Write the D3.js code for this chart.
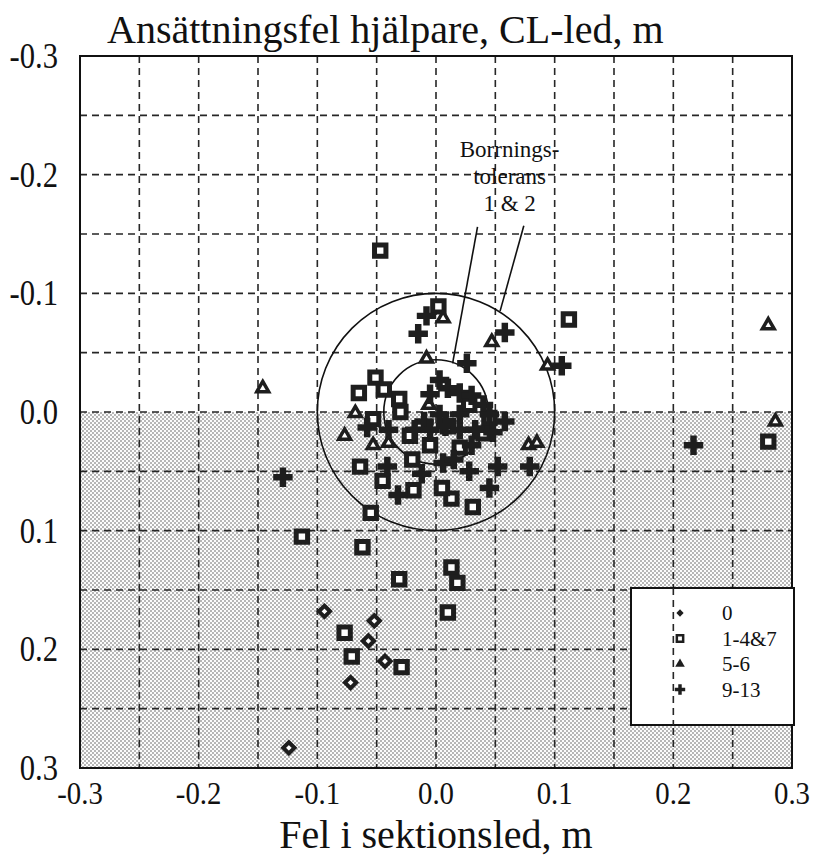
<!DOCTYPE html>
<html>
<head>
<meta charset="utf-8">
<title>Ansättningsfel hjälpare</title>
<script src="https://cdn.jsdelivr.net/npm/d3@7"></script>
<style>
  body { margin: 0; background: #fff; }
  text { font-family: "Liberation Serif", "Times New Roman", serif; fill: #111; }
</style>
</head>
<body>
<div id="chart"></div>
<script>
// tick labels
const xTicks = [-0.3, -0.2, -0.1, 0.0, 0.1, 0.2, 0.3];
const yTicks = [-0.3, -0.2, -0.1, 0.0, 0.1, 0.2, 0.3];
const gridLines = [-0.25, -0.2, -0.15, -0.1, -0.05, 0, 0.05, 0.1, 0.15, 0.2, 0.25];

// series, [x, y] in m
const serie0 = [[-0.094, 0.168], [-0.052, 0.176], [-0.057, 0.193], [-0.043, 0.210],
  [-0.072, 0.228], [-0.124, 0.283]];
const serie1to7 = [[-0.047, -0.136], [0.002, -0.089], [0.112, -0.078], [0.280, 0.025],
  [-0.051, -0.029], [-0.065, -0.016], [-0.044, -0.019], [-0.031, -0.011], [-0.030, 0.000],
  [-0.053, 0.006], [-0.064, 0.046], [-0.045, 0.058], [-0.055, 0.085], [-0.113, 0.105],
  [-0.062, 0.114], [-0.031, 0.141], [0.013, 0.131], [0.018, 0.144], [0.010, 0.169],
  [-0.077, 0.186], [-0.071, 0.206], [-0.029, 0.215], [0.031, 0.080], [0.013, 0.073],
  [-0.019, 0.066], [0.005, 0.064], [-0.020, 0.040], [-0.022, 0.020], [0.045, 0.005],
  [0.040, 0.018], [0.020, 0.030], [-0.005, 0.028], [0.028, -0.006], [0.010, 0.012]];
const serie5to6 = [[-0.146, -0.020], [0.280, -0.073], [0.286, 0.008], [0.047, -0.059],
  [-0.008, -0.045], [0.006, -0.079], [0.094, -0.039], [-0.068, 0.001], [-0.077, 0.020],
  [-0.053, 0.028], [-0.040, 0.026], [0.078, 0.028], [0.085, 0.026], [-0.006, -0.006]];
const serie9to13 = [[-0.129, 0.055], [0.217, 0.028], [0.106, -0.039], [0.058, -0.067],
  [-0.015, -0.066], [-0.008, -0.081], [0.026, -0.041], [-0.058, 0.013], [-0.040, 0.015],
  [-0.032, 0.070], [0.045, 0.064], [0.052, 0.046], [0.079, 0.046], [0.006, 0.043],
  [-0.041, 0.046], [0.003, -0.027], [0.010, -0.020], [-0.005, -0.015], [0.020, -0.016],
  [0.030, -0.014], [0.040, -0.006], [0.045, 0.002], [0.020, 0.002], [0.003, 0.002],
  [-0.010, 0.008], [-0.018, 0.015], [-0.005, 0.015], [0.008, 0.012], [0.020, 0.015],
  [0.033, 0.015], [0.048, 0.017], [0.058, 0.008], [0.015, 0.040], [0.028, 0.050],
  [-0.012, 0.052], [0.030, 0.028]];

const legendNames = ["0", "1-4&7", "5-6", "9-13"];
const toleranceRadii = [0.1, 0.044];
const noteLines = ["Borrnings-", "tolerans", "1 & 2"];

const w = 814, h = 859;
const m = { left: 80, right: 792, top: 56, bottom: 768 };

const x = d3.scaleLinear().domain([-0.3, 0.3]).range([m.left, m.right]);
const y = d3.scaleLinear().domain([-0.3, 0.3]).range([m.top, m.bottom]);
const k = x(0.1) - x(0);

const svg = d3.select("#chart").append("svg")
  .attr("width", w).attr("height", h);

// dotted shading pattern
const pat = svg.append("defs").append("pattern")
  .attr("id", "dots").attr("patternUnits", "userSpaceOnUse")
  .attr("width", 4).attr("height", 4);
pat.append("rect").attr("width", 4).attr("height", 4).attr("fill", "#fcfcfc");
pat.append("circle").attr("cx", 1).attr("cy", 1).attr("r", 0.95).attr("fill", "#999");
pat.append("circle").attr("cx", 3).attr("cy", 3).attr("r", 0.95).attr("fill", "#999");

svg.append("rect")
  .attr("x", m.left).attr("y", y(0))
  .attr("width", m.right - m.left).attr("height", y(0.3) - y(0))
  .attr("fill", "url(#dots)");

// dashed grid
const grid = svg.append("g")
  .attr("stroke", "#262626").attr("stroke-width", 1.6)
  .attr("stroke-dasharray", "7,5");
grid.selectAll(".gv").data(gridLines).enter().append("line")
  .attr("x1", d => x(d)).attr("x2", d => x(d))
  .attr("y1", m.top).attr("y2", m.bottom);
grid.selectAll(".gh").data(gridLines).enter().append("line")
  .attr("x1", m.left).attr("x2", m.right)
  .attr("y1", d => y(d)).attr("y2", d => y(d));

// frame
svg.append("rect")
  .attr("x", m.left).attr("y", m.top)
  .attr("width", m.right - m.left).attr("height", m.bottom - m.top)
  .attr("fill", "none").attr("stroke", "#111").attr("stroke-width", 2);

// tolerance circles
svg.selectAll(".tol").data(toleranceRadii).enter().append("circle")
  .attr("cx", x(0)).attr("cy", y(0))
  .attr("r", d => d * k / 0.1)
  .attr("fill", "none").attr("stroke", "#111").attr("stroke-width", 1.6);

// annotation
svg.selectAll(".note").data(noteLines).enter().append("text")
  .attr("x", x(0.062)).attr("y", (d, i) => 157 + i * 27)
  .attr("text-anchor", "middle").attr("font-size", 23)
  .text(d => d);
const leaders = [[[0.035, -0.156], [0.014, -0.041]], [[0.074, -0.157], [0.054, -0.085]]];
svg.selectAll(".leader").data(leaders).enter().append("line")
  .attr("x1", d => x(d[0][0])).attr("y1", d => y(d[0][1]))
  .attr("x2", d => x(d[1][0])).attr("y2", d => y(d[1][1]))
  .attr("stroke", "#111").attr("stroke-width", 1.6);

// markers
const ink = "#1e1e1e";
const pts = svg.append("g");
pts.selectAll(".s0").data(serie0).enter().append("path")
  .attr("d", d3.symbol(d3.symbolDiamond2, 80))
  .attr("transform", d => `translate(${x(d[0])},${y(d[1])})`)
  .attr("fill", "#fff").attr("stroke", ink).attr("stroke-width", 4);
pts.selectAll(".s1").data(serie1to7).enter().append("path")
  .attr("d", d3.symbol(d3.symbolSquare, 130))
  .attr("transform", d => `translate(${x(d[0])},${y(d[1])})`)
  .attr("fill", "#fff").attr("stroke", ink).attr("stroke-width", 5);
pts.selectAll(".s5").data(serie5to6).enter().append("path")
  .attr("d", d3.symbol(d3.symbolTriangle, 60))
  .attr("transform", d => `translate(${x(d[0])},${y(d[1])})`)
  .attr("fill", "#fff").attr("stroke", ink).attr("stroke-width", 3.5);
pts.selectAll(".s9").data(serie9to13).enter().append("path")
  .attr("d", d3.symbol(d3.symbolCross, 210))
  .attr("transform", d => `translate(${x(d[0])},${y(d[1])})`)
  .attr("fill", ink);

// legend
const lg = svg.append("g").attr("transform", "translate(631,588)");
lg.append("rect").attr("width", 163).attr("height", 137)
  .attr("fill", "#fff").attr("stroke", "#111").attr("stroke-width", 2);
lg.append("line").attr("x1", x(0.2) - 631).attr("x2", x(0.2) - 631)
  .attr("y1", 0).attr("y2", 137)
  .attr("stroke", "#262626").attr("stroke-width", 1.6).attr("stroke-dasharray", "7,5");
const legSym = [
  d3.symbol(d3.symbolDiamond2, 34)(),
  d3.symbol(d3.symbolSquare, 40)(),
  d3.symbol(d3.symbolTriangle, 40)(),
  d3.symbol(d3.symbolCross, 60)()
];
const legItem = lg.selectAll(".li").data(legendNames).enter().append("g")
  .attr("transform", (d, i) => `translate(49,${25 + i * 25.5})`);
legItem.append("path")
  .attr("d", (d, i) => legSym[i])
  .attr("fill", (d, i) => i === 1 ? "#fff" : ink)
  .attr("stroke", (d, i) => i === 1 ? ink : "none")
  .attr("stroke-width", 2.5);
legItem.append("text").attr("x", 42).attr("y", 7)
  .attr("font-size", 21).text(d => d);

// axes labels (narrow, tall digits as in the scan)
svg.selectAll(".xt").data(xTicks).enter().append("text")
  .attr("transform", d => `translate(${x(d)},${m.bottom + 36}) scale(0.9,1)`)
  .attr("text-anchor", "middle").attr("font-size", 32)
  .text(d => d.toFixed(1));
svg.selectAll(".yt").data(yTicks).enter().append("text")
  .attr("transform", d => `translate(${m.left - 22},${y(d) + 12}) scale(0.85,1)`)
  .attr("text-anchor", "end").attr("font-size", 36)
  .text(d => d.toFixed(1));

svg.append("text").attr("x", 107).attr("y", 43)
  .attr("font-size", 40).text("Ansättningsfel hjälpare, CL-led, m");
svg.append("text").attr("x", (m.left + m.right) / 2).attr("y", 848)
  .attr("text-anchor", "middle").attr("font-size", 40)
  .text("Fel i sektionsled, m");
</script>
</body>
</html>
